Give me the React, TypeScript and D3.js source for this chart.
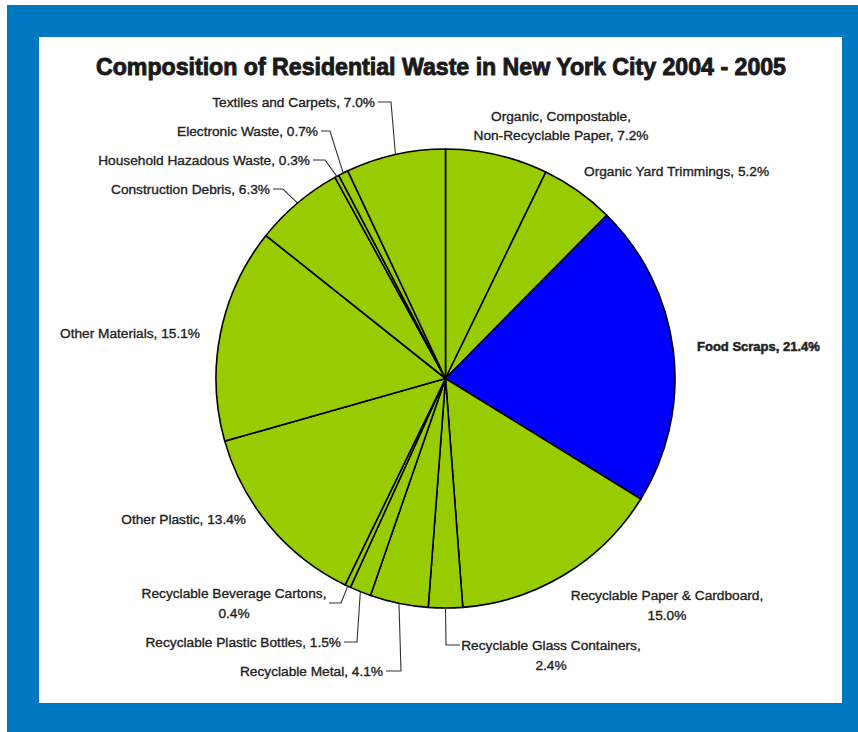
import React from "react";
import * as d3 from "d3";

const categories = [
  "Organic, Compostable, Non-Recyclable Paper",
  "Organic Yard Trimmings",
  "Food Scraps",
  "Recyclable Paper & Cardboard,",
  "Recyclable Glass Containers,",
  "Recyclable Metal",
  "Recyclable Plastic Bottles",
  "Recyclable Beverage Cartons,",
  "Other Plastic",
  "Other Materials",
  "Construction Debris",
  "Household Hazadous Waste",
  "Electronic Waste",
  "Textiles and Carpets",
];
const values = [7.2, 5.2, 21.4, 15.0, 2.4, 4.1, 1.5, 0.4, 13.4, 15.1, 6.3, 0.3, 0.7, 7.0];
const highlighted = ["Food Scraps"];

const W = 858;
const H = 732;
const CX = 445.5;
const CY = 378.5;
const R = 229.5;
const GREEN = "#99CC00";
const BLUE = "#0000FF";
const FRAME = "#0077C1";

type Layout = {
  anchor: "start" | "middle" | "end";
  x: number;
  y: number;
  words?: number;
  gap?: number;
  knee?: number;
  lx?: number;
  ly?: number;
  bold?: boolean;
};

const layouts: Layout[] = [
  { anchor: "middle", x: 561, y: 116, words: 2, gap: 19 },
  { anchor: "start", x: 584, y: 171 },
  { anchor: "start", x: 697, y: 346, bold: true },
  { anchor: "middle", x: 667, y: 595, words: 4, gap: 20 },
  { anchor: "middle", x: 551, y: 645, words: 3, gap: 20, lx: 460, ly: 645, knee: 446 },
  { anchor: "end", x: 383, y: 671, knee: 401 },
  { anchor: "end", x: 341, y: 642, knee: 357 },
  { anchor: "middle", x: 234, y: 593, words: 3, gap: 20, lx: 329, ly: 603, knee: 341 },
  { anchor: "end", x: 246, y: 519 },
  { anchor: "end", x: 200, y: 333 },
  { anchor: "end", x: 270, y: 189, knee: 283 },
  { anchor: "end", x: 310, y: 160, knee: 325 },
  { anchor: "end", x: 318, y: 131, knee: 330 },
  { anchor: "end", x: 375, y: 102, knee: 391 },
];

export default function App() {
  const data = categories.map((c, i) => ({ name: c, value: values[i], layout: layouts[i] }));
  const pie = d3.pie<any>().value((d) => d.value).sort(null).startAngle(0).endAngle(2 * Math.PI);
  const arcs = pie(data);
  const arc = d3.arc<any>().innerRadius(0).outerRadius(R);
  const edge = d3.arc<any>().innerRadius(R).outerRadius(R);

  const font = "'Liberation Sans', Arial, sans-serif";

  return (
    <div style={{ position: "absolute", left: 0, top: 0 }}>
      <svg width={W} height={H} style={{ display: "block" }}>
        <rect x={0} y={0} width={W} height={H} fill="#fff" />
        <rect x={7} y={5} width={W - 7} height={H - 5} fill={FRAME} />
        <rect x={39} y={37} width={803} height={666} fill="#fff" />
        <text
          x={441}
          y={75}
          textAnchor="middle"
          fontFamily="'Liberation Sans Narrow', 'Liberation Sans', Arial, sans-serif"
          fontWeight="bold"
          fontSize={23}
          fill="#1a1a1a"
          stroke="#1a1a1a"
          strokeWidth={0.9}
          textLength={690}
          lengthAdjust="spacingAndGlyphs"
        >
          Composition of Residential Waste in New York City 2004 - 2005
        </text>
        <g transform={`translate(${CX},${CY})`}>
          {arcs.map((a, i) => (
            <path
              key={i}
              d={arc(a) as string}
              fill={highlighted.includes(a.data.name) ? BLUE : GREEN}
              stroke="#000"
              strokeWidth={1.6}
              strokeLinejoin="round"
            />
          ))}
        </g>
        {arcs.map((a, i) => {
          const L: Layout = a.data.layout;
          const name = a.data.name.replace(/,$/, "");
          const full = `${name}, ${a.data.value.toFixed(1)}%`;
          const parts = full.split(" ");
          const lines = L.words ? [parts.slice(0, L.words).join(" "), parts.slice(L.words).join(" ")] : [full];
          const [ex, ey] = edge.centroid(a);
          const px = CX + ex;
          const py = CY + ey;
          let leader: string | null = null;
          if (L.knee !== undefined) {
            const sx = L.lx !== undefined ? L.lx : L.x + 3;
            const sy = L.ly !== undefined ? L.ly : L.y;
            leader = `M${sx},${sy}L${L.knee},${sy}L${px},${py}`;
          }
          return (
            <g key={i}>
              {leader && <path d={leader} fill="none" stroke="#333" strokeWidth={1.1} />}
              {lines.map((ln, j) => (
                <text
                  key={j}
                  x={L.x}
                  y={L.y + j * (L.gap || 0) + 4.7}
                  textAnchor={L.anchor}
                  fontFamily={font}
                  fontSize={L.bold ? 13 : 13.7}
                  fontWeight={L.bold ? "bold" : "normal"}
                  fill="#222"
                  stroke="#222"
                  strokeWidth={L.bold ? 0.5 : 0.35}
                >
                  {ln}
                </text>
              ))}
            </g>
          );
        })}
      </svg>
    </div>
  );
}
